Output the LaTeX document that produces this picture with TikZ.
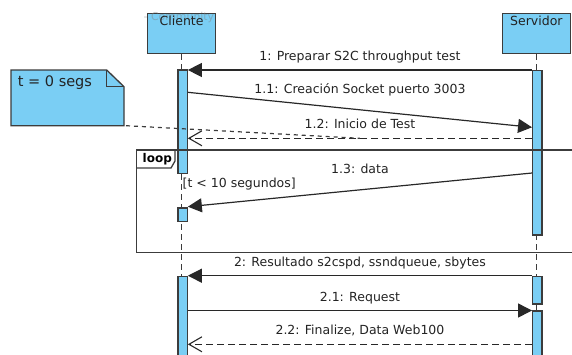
\documentclass[tikz,border=0pt]{standalone}
\usepackage{fontspec}
\setmainfont{DejaVu Sans}
\usetikzlibrary{arrows.meta,calc}
\definecolor{umlfill}{RGB}{122,206,244}
\definecolor{umlline}{RGB}{60,60,60}
\definecolor{msgline}{RGB}{40,40,40}
\definecolor{umltext}{RGB}{35,35,35}
\begin{document}
\begin{tikzpicture}[x=1pt,y=-1pt,
  txt/.style={font=\fontsize{12.5}{15}\selectfont, text=umltext, inner sep=0pt},
  lbl/.style={txt, anchor=base},
  head/.style={draw=umlline, fill=umlfill, line width=1.3pt, minimum width=68pt,
    minimum height=40pt, inner sep=0pt, anchor=north},
  actbar/.style={draw=umlline, fill=umlfill, line width=1.2pt, minimum width=9.3pt,
    inner sep=0pt, anchor=north},
  lifeline/.style={draw=umlline, line width=1.2pt, dash pattern=on 6pt off 4pt},
  msg/.style={draw=msgline, line width=1.2pt, -{Triangle[length=14pt,width=14pt]}},
  reply/.style={draw=msgline, line width=1.2pt, dash pattern=on 7pt off 4pt,
    -{Straight Barb[length=13pt,width=15pt,line width=1.1pt]}},
  notelink/.style={draw=umlline, line width=1.2pt, dash pattern=on 4pt off 4pt},
  frameline/.style={draw=umlline, line width=1.3pt},
]
\useasboundingbox (0,0) rectangle (572,354);

% lifeline heads
\node[head] (cli) at (181.6,12.7) {};
\node[anchor=base west, font=\fontsize{10.9}{12}\selectfont, text=gray,
  opacity=0.45, inner sep=0pt] (wm) at (143.5,20.5) {- Community};
\node[lbl] (clitxt) at (181.6,25) {Cliente};
\node[head] (srv) at (536.4,12.7) {};
\node[lbl] (srvtxt) at (536.4,25) {Servidor};

% lifelines
\draw[lifeline] (cli.south) -- ++(0,310);
\draw[lifeline] (srv.south) -- ++(0,310);

% activation bars
\node[actbar, minimum height=103.4pt] (ca1) at (182.6,69.3) {};
\node[actbar, minimum height=13.7pt]  (ca2) at (182.6,207.3) {};
\node[actbar, minimum height=90pt]    (ca3) at (182.6,275.7) {};
\node[actbar, minimum height=164.6pt] (sa1) at (537.3,69.7) {};
\node[actbar, minimum height=27.6pt]  (sa2) at (537.3,275.7) {};
\node[actbar, minimum height=60pt]    (sa3) at (537.3,310.3) {};

% loop fragment
\draw[frameline] (580,150) -- (136.3,150) -- (136.3,252.7) -- (580,252.7);
\draw[frameline] (136.3,168) -- (171,168) -- (175,161) -- (175,150);
\node[anchor=base west, inner sep=0pt, text=black,
  font=\fontsize{12}{14}\selectfont\bfseries] (looptxt) at (142.5,162.5) {loop};
\node[txt, anchor=base west] (guard) at (182.5,187) {[t < 10 segundos]};

% message end points
\coordinate (m1a)  at (sa1.west |- 0,70);
\coordinate (m1b)  at (ca1.east |- 0,70);
\coordinate (m11a) at (ca1.east |- 0,92.3);
\coordinate (m11b) at (sa1.west |- 0,127.3);
\coordinate (m12a) at (sa1.west |- 0,138.3);
\coordinate (m12b) at (ca1.east |- 0,138.3);
\coordinate (m13a) at (sa1.west |- 0,173);
\coordinate (m13b) at (ca2.east |- 0,206.7);
\coordinate (m2a)  at (sa2.west |- 0,275.7);
\coordinate (m2b)  at (ca3.east |- 0,275.7);
\coordinate (m21a) at (ca3.east |- 0,310.5);
\coordinate (m21b) at (sa3.west |- 0,310.5);
\coordinate (m22a) at (sa3.west |- 0,344.3);
\coordinate (m22b) at (ca3.east |- 0,344.3);

% messages
\draw[msg] (m1a) -- node[lbl, yshift=10pt] (l1) {1: Preparar S2C throughput test} (m1b);
\draw[msg] (m11a) -- node[lbl, yshift=16.5pt] (l11) {1.1: Creación Socket puerto 3003} (m11b);
\draw[reply] (m12a) -- node[lbl, yshift=9.8pt] (l12) {1.2: Inicio de Test} (m12b);
\draw[msg] (m13a) -- node[lbl, yshift=16pt] (l13) {1.3: data} (m13b);
\draw[msg] (m2a) -- node[lbl, yshift=9.5pt] (l2) {2: Resultado s2cspd, ssndqueue, sbytes} (m2b);
\draw[msg] (m21a) -- node[lbl, yshift=9.5pt] (l21) {2.1: Request} (m21b);
\draw[reply] (m22a) -- node[lbl, yshift=9.5pt] (l22) {2.2: Finalize, Data Web100} (m22b);

% note with folded corner
\draw[draw=umlline, fill=umlfill, line width=1.3pt]
  (11,70) -- (106.7,70) -- (124,86.7) -- (124,125.7) -- (11,125.7) -- cycle;
\draw[draw=umlline, line width=1.1pt] (106.7,70) -- (106.7,86.7) -- (124,86.7);
\node[anchor=base west, inner sep=0pt, text=umltext,
  font=\fontsize{14.5}{17}\selectfont] (notetxt) at (17.7,86) {t = 0 segs};
\coordinate (notecorner) at (126,125.7);
\draw[notelink] (notecorner) -- ($(m12a)!0.5!(m12b)$);
\end{tikzpicture}
\end{document}
